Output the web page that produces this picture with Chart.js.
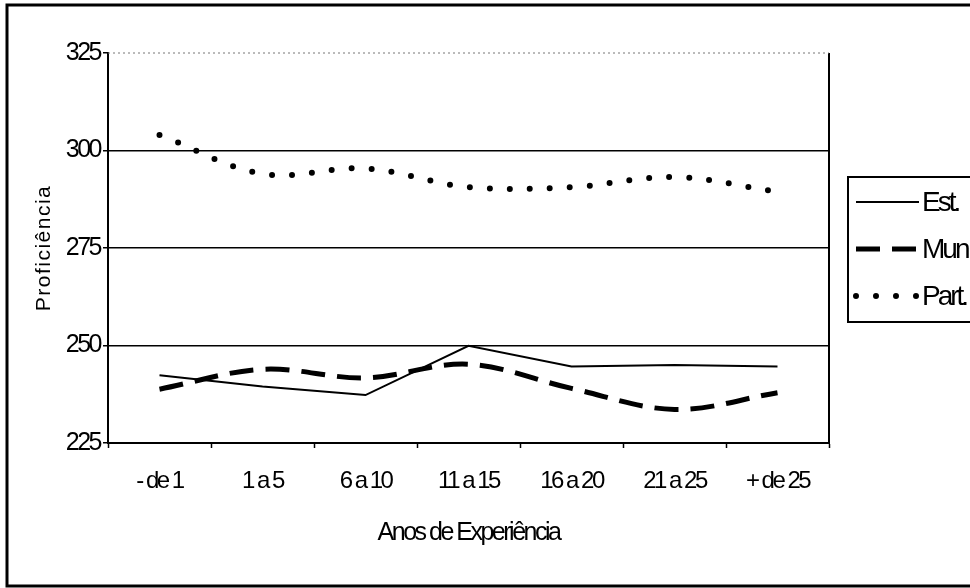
<!DOCTYPE html>
<html>
<head>
<meta charset="utf-8">
<script src="https://cdn.jsdelivr.net/npm/chart.js@4.4.1/dist/chart.umd.min.js"></script>
<style>
  html, body { margin: 0; padding: 0; background: #fff; }
  #grafico { display: block; }
</style>
</head>
<body>
<canvas id="grafico" width="970" height="588"></canvas>
<script>
const categorias = ['- de 1', '1 a 5', '6 a 10', '11 a 15', '16 a 20', '21 a 25', '+ de 25'];
const valoresEst = [242.4, 239.5, 237.3, 249.9, 244.6, 245.0, 244.6];
const valoresMin = [238.8, 243.9, 241.7, 245.2, 239.0, 233.6, 237.9];
const valoresPart = [304.0, 294.0, 295.4, 290.6, 290.6, 293.2, 289.4];
const ticksY = [225, 250, 275, 300, 325];
const tituloY = 'Proficiência';

const fonte = '"Liberation Sans", Arial, sans-serif';

// texto do grafico original e bem apertado
const apertoPlugin = {
    id: 'aperto',
    beforeUpdate(chart) { chart.ctx.letterSpacing = '-2.5px'; },
    beforeDraw(chart) { chart.ctx.letterSpacing = '-2.5px'; }
};

// moldura externa, borda de cima da area, titulo Y e legenda desenhados a mao
const molduraPlugin = {
    id: 'moldura',
    afterDraw(chart) {
        const c = chart.ctx;
        const a = chart.chartArea;
        c.save();
        c.strokeStyle = '#000';
        c.lineWidth = 3;
        c.strokeRect(7, 5, 975, 581);

        c.lineWidth = 2;
        c.beginPath();
        c.moveTo(a.right, a.top);
        c.lineTo(a.right, a.bottom);
        c.stroke();

        c.strokeStyle = '#777';
        c.lineWidth = 1;
        c.setLineDash([2, 3]);
        c.beginPath();
        c.moveTo(a.left, a.top);
        c.lineTo(a.right, a.top);
        c.stroke();
        c.setLineDash([]);

        // titulo do eixo Y
        c.save();
        c.translate(44, (a.top + a.bottom) / 2);
        c.rotate(-Math.PI / 2);
        c.letterSpacing = '1.5px';
        c.font = '21px ' + fonte;
        c.fillStyle = '#000';
        c.textAlign = 'center';
        c.textBaseline = 'middle';
        c.fillText(tituloY, 0, 0);
        c.restore();

        // legenda
        const lx = 848, ly = 177, lh = 145;
        c.strokeStyle = '#000';
        c.lineWidth = 2;
        c.strokeRect(lx, ly, 140, lh);
        const linhasY = [202, 249, 296];
        chart.data.datasets.forEach(function (ds, i) {
            const y = linhasY[i];
            c.beginPath();
            c.strokeStyle = '#000';
            c.lineWidth = ds.borderWidth;
            c.lineCap = ds.borderCapStyle || 'butt';
            c.setLineDash(ds.borderDash || []);
            c.moveTo(856, y);
            c.lineTo(919, y);
            c.stroke();
            c.setLineDash([]);
            c.fillStyle = '#000';
            c.letterSpacing = '-3px';
            c.font = '28px ' + fonte;
            c.textBaseline = 'middle';
            c.textAlign = 'left';
            c.fillText(ds.label, 922, y + 1);
        });
        c.restore();
    }
};

new Chart(document.getElementById('grafico'), {
    type: 'line',
    data: {
        labels: categorias,
        datasets: [{
            label: 'Est.',
            data: valoresEst,
            borderColor: '#000',
            borderWidth: 2,
            tension: 0,
            pointRadius: 0
        }, {
            label: 'Mun.',
            data: valoresMin,
            borderColor: '#000',
            borderWidth: 5,
            borderDash: [24, 12],
            tension: 0.35,
            pointRadius: 0
        }, {
            label: 'Part.',
            data: valoresPart,
            borderColor: '#000',
            borderWidth: 6,
            borderDash: [0, 20],
            borderCapStyle: 'round',
            tension: 0.35,
            pointRadius: 0
        }]
    },
    options: {
        responsive: false,
        animation: false,
        layout: { padding: { left: 0, top: 53, right: 141, bottom: 0 } },
        plugins: {
            legend: { display: false },
            tooltip: { enabled: false }
        },
        scales: {
            x: {
                offset: true,
                grid: {
                    offset: true,
                    drawOnChartArea: false,
                    drawTicks: true,
                    tickLength: 5,
                    tickColor: '#000',
                    tickWidth: 1.5
                },
                border: { color: '#000', width: 2 },
                ticks: {
                    color: '#000',
                    padding: 19,
                    maxRotation: 0,
                    autoSkip: false,
                    font: { family: fonte, size: 24 }
                },
                title: {
                    display: true,
                    text: 'Anos de Experiência',
                    color: '#000',
                    font: { family: fonte, size: 25 },
                    padding: { top: 0, bottom: 40 }
                },
                afterFit(scale) { scale.height = 145; }
            },
            y: {
                min: 225,
                max: 325,
                afterBuildTicks(scale) {
                    scale.ticks = ticksY.map(function (v) { return { value: v }; });
                },
                grid: {
                    color(ctx) {
                        return ctx.tick && ctx.tick.value === 325 ? 'rgba(0,0,0,0)' : '#000';
                    },
                    lineWidth: 1.5,
                    tickLength: 5,
                    tickColor: '#000'
                },
                border: { color: '#000', width: 2 },
                ticks: {
                    color: '#000',
                    padding: 3,
                    font: { family: fonte, size: 25 }
                },
                afterFit(scale) { scale.width = 108; }
            }
        }
    },
    plugins: [apertoPlugin, molduraPlugin]
});
</script>
</body>
</html>
